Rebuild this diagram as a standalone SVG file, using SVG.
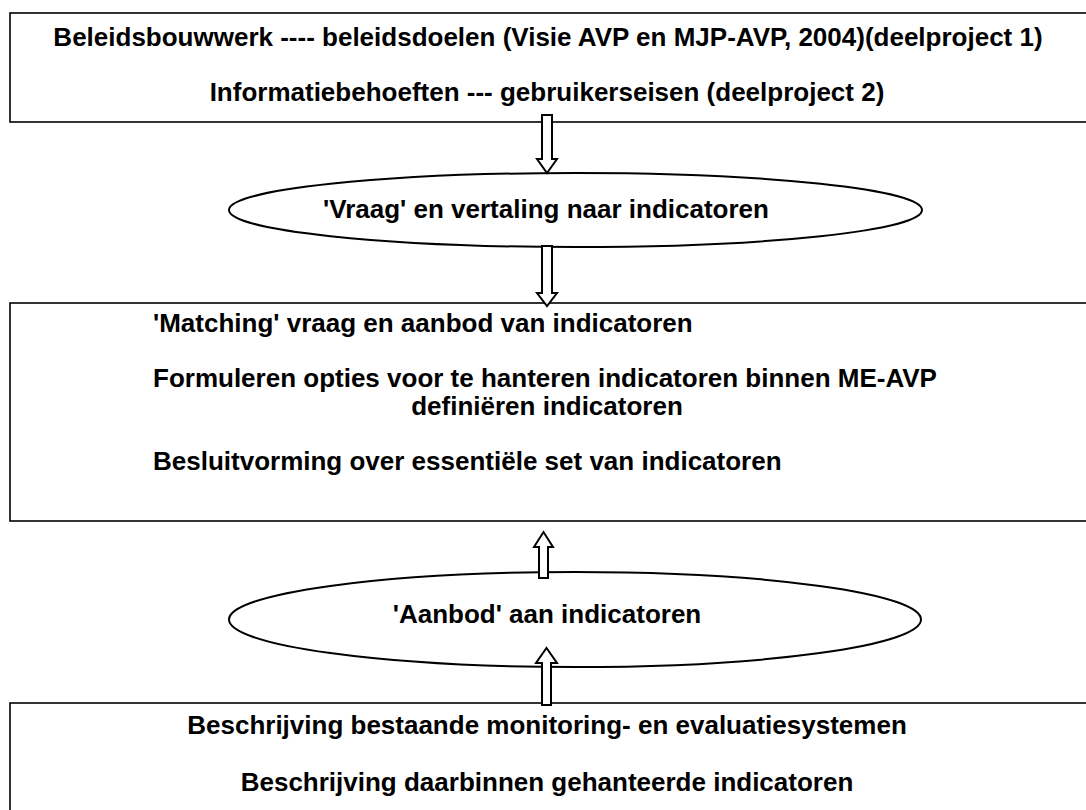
<svg xmlns="http://www.w3.org/2000/svg" width="1086" height="810" viewBox="0 0 1086 810">
<style>
.box{fill:#fff;stroke:#000;stroke-width:1.6}
.ell{fill:#fff;stroke:#000;stroke-width:2}
.arr{fill:#fff;stroke:#000;stroke-width:2;stroke-linejoin:miter}
text{font-family:"Liberation Sans",Arial,sans-serif;font-weight:bold;font-size:26px;fill:#000}
.c{text-anchor:middle}
</style>
<rect width="1086" height="810" fill="#fff"/>
<g id="node-top">
<rect class="box" x="10" y="13" width="1100" height="109"/>
<text class="c" x="548" y="46">Beleidsbouwwerk ---- beleidsdoelen (Visie AVP en MJP-AVP, 2004)(deelproject 1)</text>
<text class="c" x="547" y="101">Informatiebehoeften --- gebruikerseisen (deelproject 2)</text>
</g>
<g id="node-vraag">
<ellipse class="ell" cx="575.5" cy="210" rx="346.5" ry="37"/>
<text class="c" x="546" y="218">'Vraag' en vertaling naar indicatoren</text>
</g>
<g id="node-matching">
<rect class="box" x="10" y="303" width="1100" height="218"/>
<text x="153" y="332">'Matching' vraag en aanbod van indicatoren</text>
<text x="153" y="387">Formuleren opties voor te hanteren indicatoren binnen ME-AVP</text>
<text class="c" x="547" y="415">definiëren indicatoren</text>
<text x="153" y="470">Besluitvorming over essentiële set van indicatoren</text>
</g>
<g id="node-aanbod">
<ellipse class="ell" cx="575" cy="619.5" rx="346" ry="47.5"/>
<text class="c" x="547" y="623">'Aanbod' aan indicatoren</text>
</g>
<g id="node-bottom">
<rect class="box" x="10" y="703" width="1100" height="150"/>
<text class="c" x="547" y="734">Beschrijving bestaande monitoring- en evaluatiesystemen</text>
<text class="c" x="547" y="791">Beschrijving daarbinnen gehanteerde indicatoren</text>
</g>
<g id="connectors">
<polygon class="arr" points="542,115 552,115 552,159 557,159 547,173 537,159 542,159"/>
<polygon class="arr" points="542,246 552,246 552,293 557,293 547,306 537,293 542,293"/>
<polygon class="arr" points="539,578 548,578 548,547 553,547 543.5,532 534,547 539,547"/>
<polygon class="arr" points="542,705 551,705 551,663 557,663 546.5,648 536,663 542,663"/>
</g>
</svg>
